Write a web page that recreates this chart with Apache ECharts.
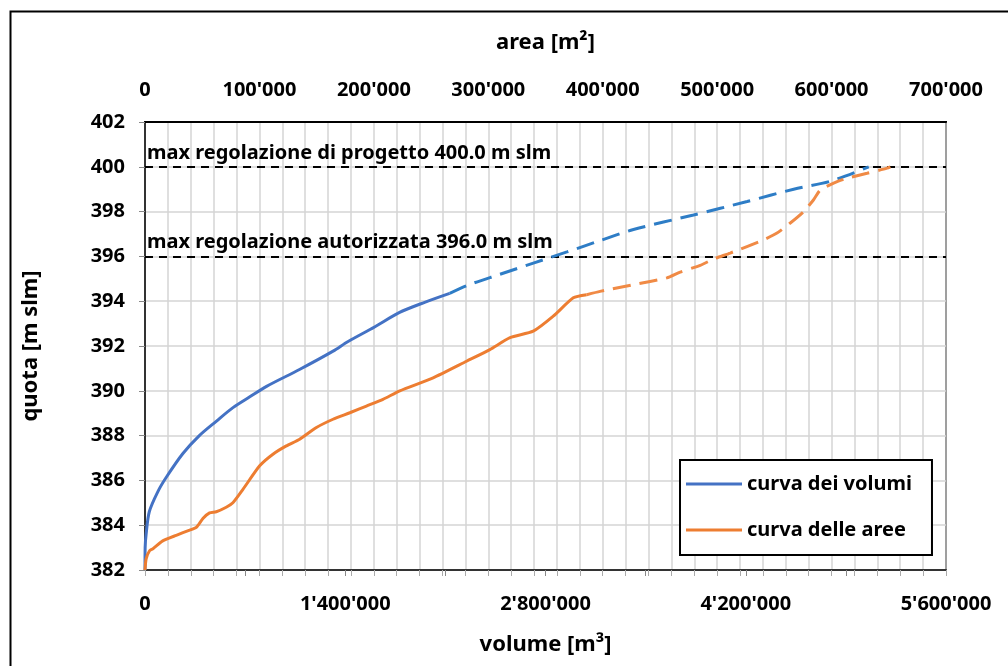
<!DOCTYPE html>
<html>
<head>
<meta charset="utf-8">
<script src="https://cdn.jsdelivr.net/npm/echarts@6/dist/echarts.min.js"></script>
<style>html,body{margin:0;padding:0;background:#fff}#c{width:1008px;height:666px}</style>
</head>
<body>
<div id="c"></div>
<script>
// ---- data ----
const volumeSolidX = [0, 1000, 8000, 30000, 90000, 150000, 265000, 380000, 500000, 615000, 730000, 850000, 1080000, 1315000, 1420000, 1605000, 1780000, 1955000, 2130000];
const volumeSolidY = [382.0, 383.0, 383.6, 384.6, 385.5, 386.15, 387.2, 388.0, 388.65, 389.25, 389.72, 390.2, 390.95, 391.77, 392.2, 392.85, 393.5, 393.95, 394.35];
const volumeDashX = [2130000, 2250000, 2480000, 2715000, 2950000, 3180000, 3415000, 3835000, 4210000, 4535000, 4790000, 5060000];
const volumeDashY = [394.35, 394.7, 395.2, 395.7, 396.2, 396.7, 397.2, 397.85, 398.45, 399.0, 399.35, 400.0];
const areaSolidX = [0, 1000, 4000, 7000, 15500, 27300, 39000, 44800, 50600, 56400, 62300, 71000, 76800, 85600, 100200, 111800, 123500, 135200, 149800, 164300, 179000, 193500, 208000, 222700, 251800, 281000, 301400, 319000, 339300, 356800, 374300, 386000];
const areaSolidY = [382.0, 382.5, 382.86, 382.95, 383.3, 383.55, 383.78, 383.9, 384.3, 384.55, 384.6, 384.8, 385.0, 385.6, 386.65, 387.17, 387.54, 387.84, 388.36, 388.73, 389.02, 389.32, 389.62, 390.0, 390.58, 391.32, 391.84, 392.37, 392.66, 393.33, 394.15, 394.29];
const areaDashX = [386000, 397700, 426800, 456000, 467700, 485200, 496800, 511400, 540600, 552300, 563900, 575600, 584300, 590200, 601800, 613500, 631000, 648500, 651400];
const areaDashY = [394.29, 394.44, 394.74, 395.04, 395.3, 395.6, 395.88, 396.15, 396.74, 397.04, 397.49, 398.0, 398.53, 398.97, 399.27, 399.49, 399.71, 399.94, 400.0];
const refLevels = [400, 396];
const refLabels = ['max regolazione di progetto 400.0 m slm', 'max regolazione autorizzata 396.0 m slm'];
const seriesNames = ['curva dei volumi', 'curva delle aree'];
const volumeTicks = [0, 1400000, 2800000, 4200000, 5600000];
const areaTicks = [0, 100000, 200000, 300000, 400000, 500000, 600000, 700000];

const zip = (xs, ys) => xs.map((x, i) => [x, ys[i]]);
const fmt = v => String(v).replace(/\B(?=(\d{3})+(?!\d))/g, "'");
const FONT = 'Noto Sans';
const lab = {fontFamily: FONT, fontWeight: 'bold', fontSize: 20, color: '#000'};

const chart = echarts.init(document.getElementById('c'), null, {renderer: 'canvas'});
chart.setOption({
  backgroundColor: '#fff',
  animation: false,
  textStyle: {fontFamily: FONT},
  grid: {left: 145, right: 62, top: 122, bottom: 96, show: true, borderColor: '#000', borderWidth: 2, backgroundColor: 'transparent'},
  legend: {
    data: seriesNames, orient: 'vertical', left: 680, top: 460,
    backgroundColor: '#fff', borderColor: '#000', borderWidth: 2,
    padding: [14, 20, 15, 6], itemGap: 26, itemWidth: 56, itemHeight: 3, icon: 'rect',
    textStyle: {fontFamily: FONT, fontWeight: 'bold', fontSize: 20, color: '#000'}
  },
  graphic: [{type: 'rect', left: 8, top: 9, shape: {width: 1100, height: 700}, style: {fill: 'none', stroke: '#000', lineWidth: 2}, silent: true}],
  xAxis: [
    {type: 'value', position: 'bottom', min: 0, max: 5600000, interval: 700000,
     axisLine: {show: true, lineStyle: {color: '#333', width: 2}},
     axisTick: {show: true, length: 6, lineStyle: {color: '#888'}},
     axisLabel: Object.assign({}, lab, {margin: 24, formatter: v => volumeTicks.includes(v) ? fmt(v) : ''}),
     splitLine: {show: false},
     name: 'volume [m³]', nameLocation: 'middle', nameGap: 64,
     nameTextStyle: {fontFamily: FONT, fontWeight: 'bold', fontSize: 22, color: '#000'}},
    {type: 'value', position: 'top', min: 0, max: 700000, interval: 100000,
     axisLine: {show: true, lineStyle: {color: '#000', width: 2}},
     axisTick: {show: false},
     axisLabel: Object.assign({}, lab, {margin: 22, formatter: v => areaTicks.includes(v) ? fmt(v) : ''}),
     splitLine: {show: false},
     name: 'area [m²]', nameLocation: 'middle', nameGap: 68,
     nameTextStyle: {fontFamily: FONT, fontWeight: 'bold', fontSize: 22, color: '#000'}},
    {type: 'value', position: 'bottom', min: 0, max: 700000, interval: 20000,
     axisLine: {show: false}, axisLabel: {show: false},
     axisTick: {show: true, length: 6, lineStyle: {color: '#aaa'}},
     splitLine: {show: true, lineStyle: {color: '#d4d4d4', width: 1.5}}}
  ],
  yAxis: [{type: 'value', min: 382, max: 402, interval: 2,
    axisLine: {show: true, lineStyle: {color: '#333', width: 2}},
    axisTick: {show: true, length: 6, lineStyle: {color: '#888'}},
    axisLabel: Object.assign({}, lab, {margin: 20}),
    splitLine: {show: true, lineStyle: {color: '#d4d4d4', width: 1.5}},
    name: 'quota [m slm]', nameLocation: 'middle', nameGap: 103, nameRotate: 90,
    nameTextStyle: {fontFamily: FONT, fontWeight: 'bold', fontSize: 22, color: '#000'}}],
  series: [
    {name: seriesNames[0], type: 'line', xAxisIndex: 0, data: zip(volumeSolidX, volumeSolidY), symbol: 'none', z: 5, smooth: 0.3,
     lineStyle: {color: '#4472C4', width: 3}, itemStyle: {color: '#4472C4'},
     markLine: {silent: true, symbol: 'none', animation: false,
       lineStyle: {color: '#000', type: [8, 6], width: 2},
       label: {position: 'insideStartTop', distance: [2, 4], color: '#000', fontFamily: FONT, fontWeight: 'bold', fontSize: 20},
       data: refLevels.map((y, i) => ({yAxis: y, label: {formatter: refLabels[i]}}))}},
    {name: 'volumi_ext', type: 'line', xAxisIndex: 0, data: zip(volumeDashX, volumeDashY), symbol: 'none', z: 5, smooth: 0.3,
     lineStyle: {color: '#2E7DC6', width: 3, type: [18, 9]}},
    {name: seriesNames[1], type: 'line', xAxisIndex: 1, data: zip(areaSolidX, areaSolidY), symbol: 'none', z: 5, smooth: 0.2,
     lineStyle: {color: '#ED7D31', width: 3}, itemStyle: {color: '#ED7D31'}},
    {name: 'aree_ext', type: 'line', xAxisIndex: 1, data: zip(areaDashX, areaDashY), symbol: 'none', z: 5, smooth: 0.2,
     lineStyle: {color: '#F08A45', width: 3, type: [18, 9]}}
  ]
});
</script>
</body>
</html>
